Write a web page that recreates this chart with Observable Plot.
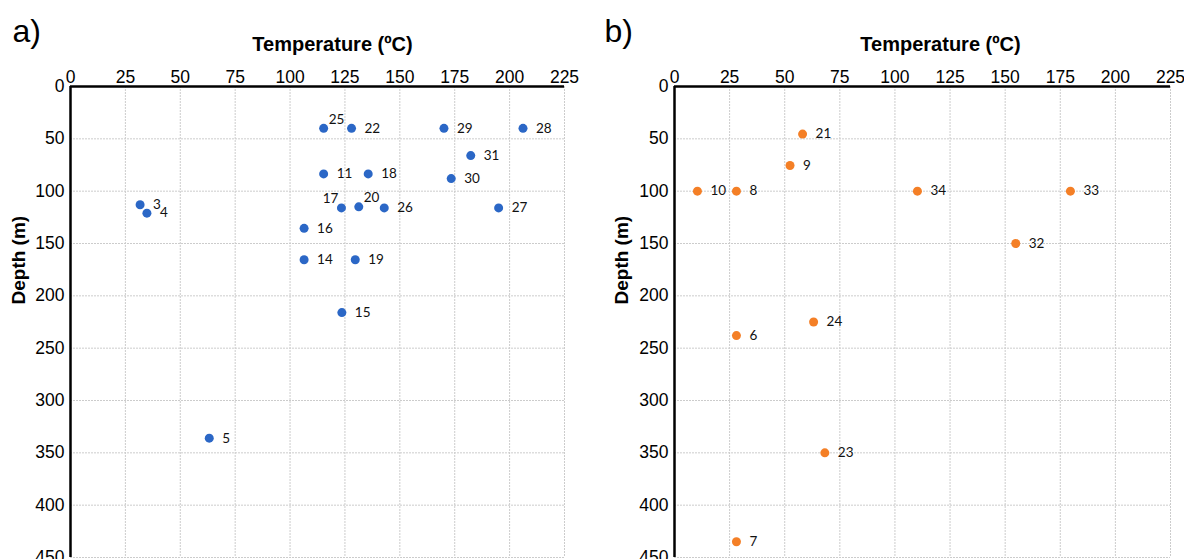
<!DOCTYPE html>
<html><head><meta charset="utf-8">
<script src="https://cdn.jsdelivr.net/npm/d3@7"></script>
<script src="https://cdn.jsdelivr.net/npm/@observablehq/plot@0.6"></script>
<style>
html,body{margin:0;padding:0;background:#fff;}
#wrap{display:flex;width:1184px;height:559px;overflow:hidden;}
#wrap svg{display:block;}
</style></head><body><div id="wrap"></div>
<script>
// tick values
const xTicks = [0, 25, 50, 75, 100, 125, 150, 175, 200, 225];
const yTicks = [0, 50, 100, 150, 200, 250, 300, 350, 400, 450];

// panel a) data
const aIds   = [3, 4, 5, 11, 14, 15, 16, 17, 18, 19, 20, 22, 25, 26, 27, 28, 29, 30, 31];
const aTemp  = [31.7, 34.8, 63.2, 115.3, 106.4, 123.6, 106.4, 123.4, 135.6, 129.7, 131.3, 128, 115.3, 142.9, 195, 206.1, 170.1, 173.4, 182.3];
const aDepth = [113, 121, 336, 83.5, 165.5, 216, 135.5, 116, 83.5, 165.5, 115, 40, 40, 116, 116, 40, 40, 88, 66];

// panel b) data
const bIds   = [6, 7, 8, 9, 10, 21, 23, 24, 32, 33, 34];
const bTemp  = [28.1, 28.1, 28.1, 52.4, 10.4, 58.1, 68.2, 63.1, 154.8, 179.6, 110.2];
const bDepth = [238, 435, 100, 75.5, 100, 45.5, 350, 225, 150, 100, 100];

// label placement exceptions (style)
const aUpRight = [25, 20];
const aUpLeft = [17];

function panel({letter, ids, temp, depth, color, marginLeft, marginRight, titleDx, depthX, upRight = [], upLeft = []}) {
  const data = ids.map((id, i) => ({id, t: temp[i], d: depth[i]}));
  const normal = data.filter(p => !upRight.includes(p.id) && !upLeft.includes(p.id));
  const ur = data.filter(p => upRight.includes(p.id));
  const ul = data.filter(p => upLeft.includes(p.id));
  const marginTop = 86, marginBottom = 2, height = 559;
  const frameMidY = (marginTop + height - marginBottom) / 2;
  const labelStyle = {x: "t", y: "d", text: d => String(d.id), fontFamily: "Lato, 'Open Sans', sans-serif", fontSize: 13.5, fill: "#111"};
  const tickFont = "'Liberation Sans Narrow', 'Arial Narrow', 'Liberation Sans', sans-serif";
  return Plot.plot({
    width: 592, height, marginTop, marginBottom, marginLeft, marginRight,
    style: {fontFamily: "'Liberation Sans', Arial, sans-serif", fontSize: "16px", background: "#fff", overflow: "visible"},
    x: {domain: [0, 225]},
    y: {domain: [0, 450], reverse: true},
    marks: [
      Plot.gridX(xTicks, {stroke: "#cccccc", strokeOpacity: 1, strokeDasharray: "2,1"}),
      Plot.gridY(yTicks, {stroke: "#cccccc", strokeOpacity: 1, strokeDasharray: "2,1"}),
      Plot.axisX(xTicks, {anchor: "top", tickSize: 0, tickPadding: 4, label: null, fill: "#000", fontSize: 17.5, fontFamily: tickFont}),
      Plot.axisY(yTicks, {anchor: "left", tickSize: 0, tickPadding: 6, label: null, fill: "#000", fontSize: 17.5, fontFamily: tickFont}),
      Plot.ruleY([0], {stroke: "#000", strokeWidth: 2.5}),
      Plot.ruleX([0], {stroke: "#000", strokeWidth: 2.5}),
      Plot.dot(data, {x: "t", y: "d", r: 4.5, fill: color, stroke: null}),
      Plot.text(normal, {...labelStyle, dx: 13, textAnchor: "start"}),
      Plot.text(ur, {...labelStyle, dx: 5, dy: -9, textAnchor: "start"}),
      Plot.text(ul, {...labelStyle, dx: -3, dy: -9, textAnchor: "end"}),
      Plot.text([letter], {text: d => d, frameAnchor: "top-left", dx: 12 - marginLeft, dy: 41 - marginTop, textAnchor: "start", lineAnchor: "bottom", fontSize: 32, fill: "#000"}),
      Plot.text(["Temperature (ºC)"], {text: d => d, frameAnchor: "top", dx: titleDx, dy: 50 - marginTop, lineAnchor: "bottom", fontSize: 20, fontWeight: "bold", fill: "#000"}),
      Plot.text(["Depth (m)"], {text: d => d, frameAnchor: "left", rotate: -90, dx: depthX - marginLeft, dy: 304 - frameMidY, fontSize: 19, fontWeight: "bold", fill: "#000"})
    ]
  });
}

const wrap = document.getElementById("wrap");
wrap.append(panel({letter: "a)", ids: aIds, temp: aTemp, depth: aDepth, color: "#2b67c6",
  marginLeft: 70, marginRight: 28, titleDx: 15, depthX: 18.5, upRight: aUpRight, upLeft: aUpLeft}));
wrap.append(panel({letter: "b)", ids: bIds, temp: bTemp, depth: bDepth, color: "#f47f26",
  marginLeft: 82, marginRight: 14, titleDx: 18, depthX: 29}));
</script>
</body></html>
